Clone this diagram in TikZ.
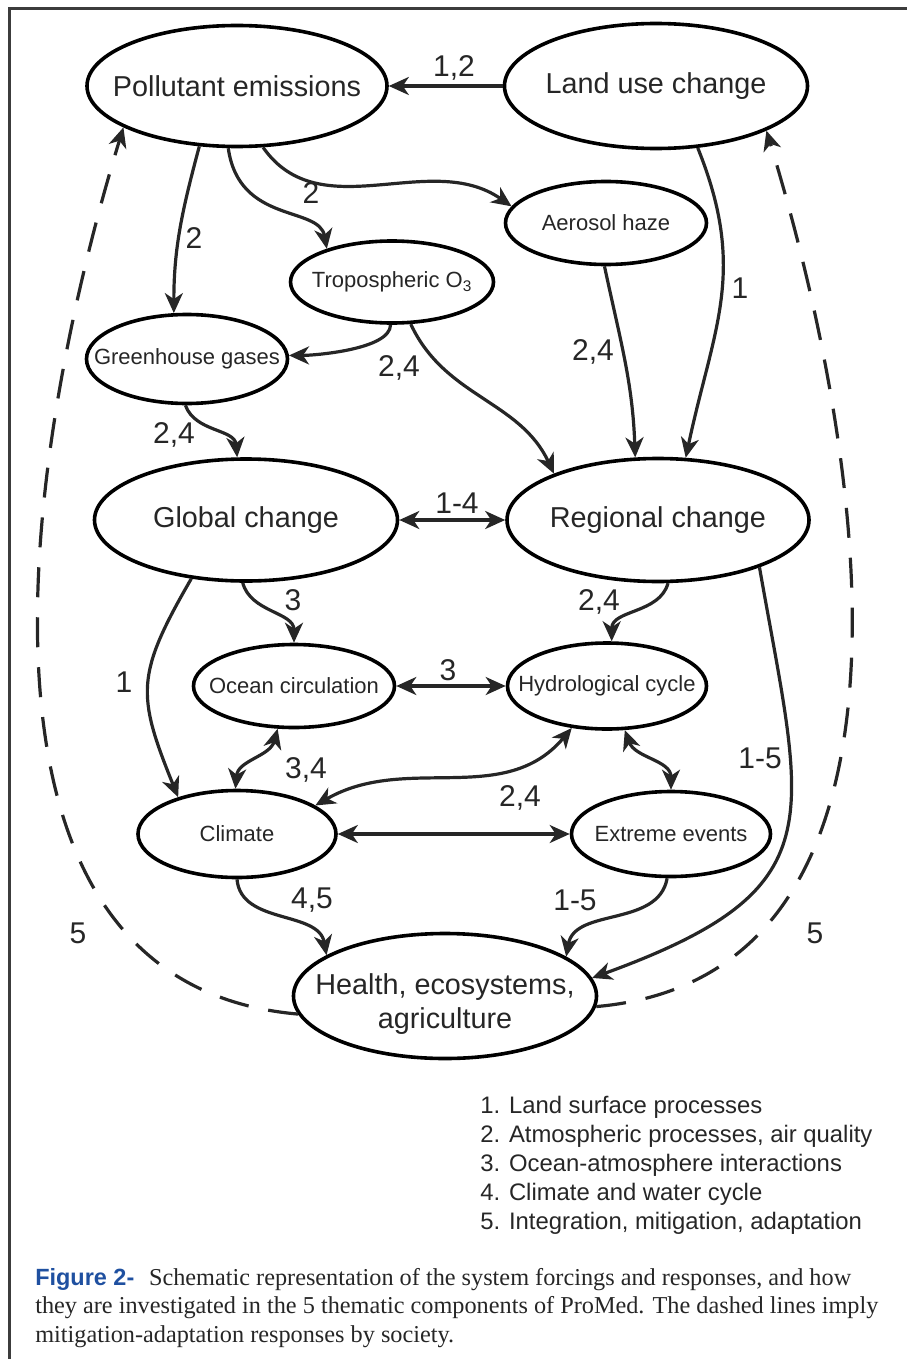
\documentclass[tikz,border=0pt]{standalone}
\usepackage{fontspec}
\setmainfont{Liberation Serif}
\setsansfont{Liberation Sans}
\usetikzlibrary{arrows.meta,shapes.geometric}
\definecolor{inkgray}{HTML}{262626}
\definecolor{capblue}{HTML}{1F50A0}
\newcommand{\bigtext}{\sffamily\fontsize{21.6}{25.5}\selectfont}
\newcommand{\smalltext}{\sffamily\fontsize{16.5}{19}\selectfont}
\newcommand{\numtext}{\sffamily\fontsize{22.5}{26}\selectfont}
\newcommand{\legtext}{\sffamily\fontsize{17.9}{21}\selectfont}
\newcommand{\captext}{\rmfamily\fontsize{18.2}{21.75}\selectfont}

\begin{document}
\begin{tikzpicture}[
  x=0.75pt, y=0.75pt,
  > = {Stealth[length=15pt,width=13.5pt,inset=4.5pt]},
  blob/.style 2 args = {draw=black, ellipse, line width=2.7pt, inner sep=0pt,
    minimum width=#1*0.75pt, minimum height=#2*0.75pt},
  link/.style = {draw=inkgray, line width=2.4pt},
  society/.style = {link, dash pattern=on 22.5pt off 15pt},
  num/.style = {font=\numtext, text=inkgray, inner sep=0pt},
  legend/.style = {anchor=base west, font=\legtext, text=inkgray, inner sep=0pt},
  capline/.style = {anchor=base west, font=\captext, text=inkgray, inner sep=0pt},
  every label/.style = {text=inkgray}
  ]
	\useasboundingbox (0,0) rectangle (907,-1359);
	\draw[line width=2.25pt, draw=inkgray!90] (9,-1359) |- (907,-9);

	% forcings
	\node[blob={300}{121}, label={[font=\bigtext]center:Pollutant emissions}] (poll) at (237,-86) {};
	\node[blob={303}{125}, label={[font=\bigtext]center:Land use change}] (land) at (656,-86) {};
	\node[blob={201}{83}, label={[font=\smalltext]center:Aerosol haze}] (aero) at (606,-223) {};
	\node[blob={203}{82}, label={[font=\smalltext]center:Tropospheric O\textsubscript{3}}] (trop) at (392,-282) {};
	\node[blob={201}{89}, label={[font=\smalltext]center:Greenhouse gases}] (ghg) at (187,-359) {};

	% responses
	\node[blob={303}{122}, label={[font=\bigtext]center:Global change}] (glob) at (246,-520) {};
	\node[blob={302}{123}, label={[font=\bigtext]center:Regional change}] (regi) at (658,-520) {};
	\node[blob={201}{83}, label={[font=\smalltext]center:Ocean circulation}] (ocean) at (294,-686) {};
	\node[blob={199}{86}, label={[font=\smalltext]center:Hydrological cycle}] (hydro) at (607,-686) {};
	\node[blob={198}{87}, label={[font=\smalltext]center:Climate}] (clim) at (237,-834) {};
	\node[blob={199}{85}, label={[font=\smalltext]center:Extreme events}] (extr) at (671,-834) {};
	\node[blob={303}{125}, label={[font=\bigtext, align=center, yshift=-6pt]center:{Health, ecosystems,\\agriculture}}] (health) at (445,-996) {};

	% connectors
	\draw[link,->] (land.west) -- (poll.east);
	\draw[link,->] (poll.-122) to[out=-105,in=90] (ghg.106);
	\draw[link,->] (poll.-98) to[out=-82,in=100,out looseness=1.4,in looseness=0.8] (trop.153);
	\draw[link,->] (poll.-67) to[out=-55,in=145] (aero.170);
	\draw[link,->] (land.-56) to[out=-68,in=78,looseness=1.1] (regi.66);
	\draw[link,->] (aero.-92) to[out=-78,in=92] (regi.110);
	\draw[link,->] (trop.-92) to[out=-90,in=0,looseness=0.6] (ghg.2);
	\draw[link,->] (trop.-66) to[out=-65,in=115] (regi.156);
	\draw[link,->] (ghg.-92) to[out=-70,in=95] (glob.98);
	\draw[link,<->] (glob.east) -- (regi.west);
	\draw[link,->] (glob.-133) to[out=-120,in=112,looseness=1.3] (clim.148);
	\draw[link,->] (glob.-93) to[out=-75,in=90] (ocean.90);
	\draw[link,->] (regi.-81) to[out=-105,in=90] (hydro.84);
	\draw[link,<->] (ocean.east) -- (hydro.west);
	\draw[link,<->] (ocean.-111) to[out=-105,in=85] (clim.92);
	\draw[link,<->] (clim.20) to[out=30,in=-130] (hydro.-130);
	\draw[link,<->] (hydro.-68) to[out=-70,in=90] (extr.90);
	\draw[link,<->] (clim.east) -- (extr.west);
	\draw[link,->] (regi.-25) to[out=-80,in=20,looseness=1.5] (health.7);
	\draw[link,->] (clim.-90) to[out=-85,in=100] (health.161);
	\draw[link,->] (extr.-95) to[out=-100,in=80] (health.18);
	\draw[society,->] (health.187) to[out=175,in=-107] (poll.-160);
	\draw[society,->] (health.-4) to[out=5,in=-73] (land.-22);

	% component numbers
	\node[num] (n12) at (454,-68) {1,2};
	\node[num] (npg) at (194,-238) {2};
	\node[num] (npt) at (311,-193) {2};
	\node[num] (nlr) at (740,-288) {1};
	\node[num] (nar) at (593,-352) {2,4};
	\node[num] (ntg) at (399,-368) {2,4};
	\node[num] (ngg) at (174,-435) {2,4};
	\node[num] (ngr) at (457,-503) {1-4};
	\node[num] (ngc) at (124,-682) {1};
	\node[num] (ngo) at (293,-600) {3};
	\node[num] (nrh) at (599,-602) {2,4};
	\node[num] (noh) at (448,-670) {3};
	\node[num] (noc) at (306,-770) {3,4};
	\node[num] (nce) at (520,-798) {2,4};
	\node[num] (nrx) at (760,-758) {1-5};
	\node[num] (nch) at (312,-900) {4,5};
	\node[num] (neh) at (575,-900) {1-5};
	\node[num] (nsl) at (78,-933) {5};
	\node[num] (nsr) at (815,-933) {5};

	% key
	\foreach \txt [count=\i] in {{Land surface processes}, {Atmospheric processes, air quality},
	    {Ocean-atmosphere interactions}, {Climate and water cycle}, {Integration, mitigation, adaptation}}
	  \node[legend] (leg\i) at (480,{-1113-29*(\i-1)}) {\i. \txt};

	\node[capline] (cap1) at (35,-1285) {\textcolor{capblue}{\sffamily\bfseries\fontsize{17.6}{21}\selectfont Figure 2-}\hspace{11pt}Schematic representation of the system forcings and responses, and how};
	\node[capline] (cap2) at (35,-1313) {they are investigated in the 5 thematic components of ProMed. The dashed lines imply};
	\node[capline] (cap3) at (35,-1342) {mitigation-adaptation responses by society.};

\end{tikzpicture}
\end{document}
